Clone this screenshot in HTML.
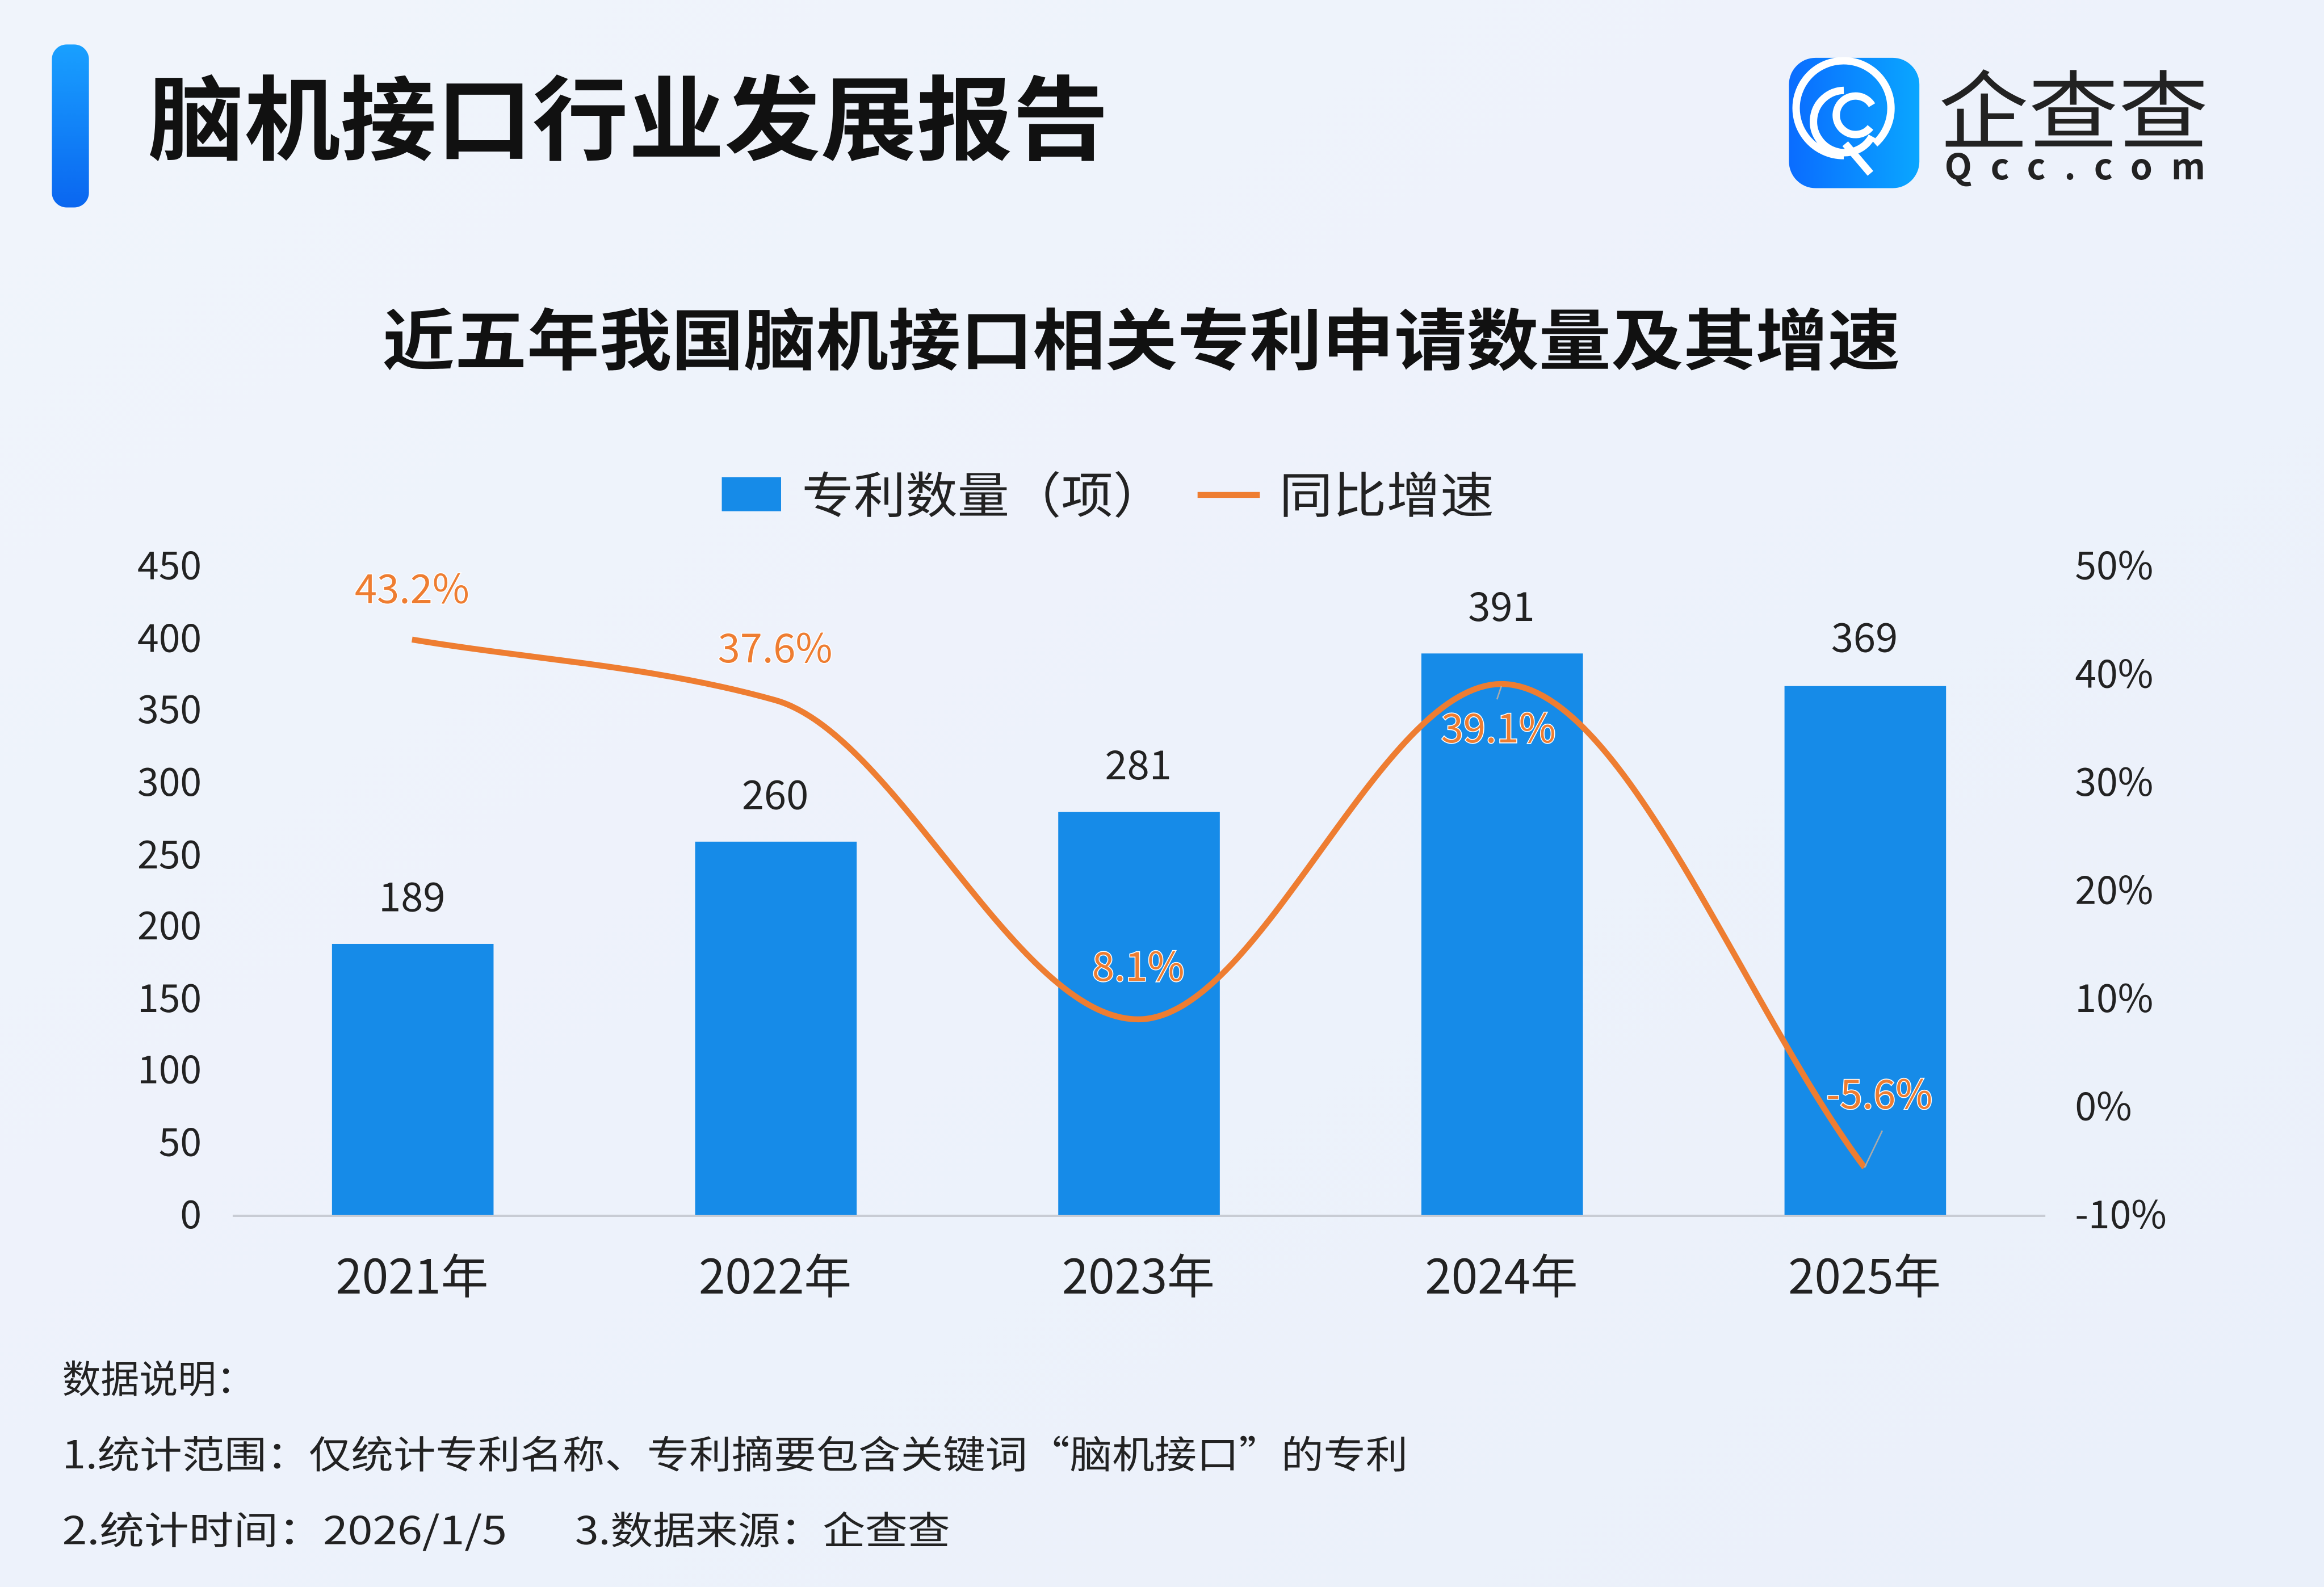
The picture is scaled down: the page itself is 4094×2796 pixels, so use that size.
<!DOCTYPE html>
<html><head><meta charset="utf-8"><style>html,body{margin:0;padding:0;background:#eef3fb}svg{display:block}text{font-family:"Noto Sans CJK SC","Liberation Sans",sans-serif}</style></head>
<body>
<svg width="4094" height="2796" viewBox="0 0 1568 1071" preserveAspectRatio="none" xmlns="http://www.w3.org/2000/svg">
<defs>
<linearGradient id="bg" x1="0" y1="0" x2="1" y2="1"><stop offset="0" stop-color="#f0f4fb"/><stop offset="0.5" stop-color="#edf2fb"/><stop offset="1" stop-color="#eaf0fa"/></linearGradient>
<linearGradient id="bar" x1="0" y1="0" x2="0" y2="1"><stop offset="0" stop-color="#19a0ff"/><stop offset="1" stop-color="#0a66f0"/></linearGradient>
<linearGradient id="logo" x1="0" y1="0" x2="1" y2="0"><stop offset="0" stop-color="#0a6cff"/><stop offset="1" stop-color="#0aa6ff"/></linearGradient>
</defs>
<rect width="1568" height="1071" fill="url(#bg)"/>
<rect x="35" y="30" width="25" height="110" rx="10" fill="url(#bar)"/>
<text x="100" y="103" font-size="62" font-weight="bold" fill="#111" textLength="648" lengthAdjust="spacingAndGlyphs">脑机接口行业发展报告</text>
<rect x="1207" y="39" width="88" height="88" rx="18" fill="url(#logo)"/>
<g fill="none" stroke="#fff" stroke-width="5" stroke-linecap="butt">
<path d="M1244 105 A32 32 0 1 1 1265 97"/>
<path d="M1244 61 A21 21 0 1 0 1263 92"/>
<path d="M1263 71 A13 13 0 1 0 1262 86"/>
<path d="M1245 97 L1262 117"/>
</g>
<text x="1308" y="96" font-size="58" fill="#222" textLength="182" lengthAdjust="spacingAndGlyphs">企查查</text>
<text x="1312" y="121" font-size="24" font-weight="bold" fill="#222" textLength="176" lengthAdjust="spacing">Qcc.com</text>
<text x="258" y="246" font-size="45" font-weight="bold" fill="#111" textLength="1024" lengthAdjust="spacingAndGlyphs">近五年我国脑机接口相关专利申请数量及其增速</text>
<rect x="487" y="322" width="40" height="23" fill="#168be8"/>
<text x="541" y="346" font-size="33" fill="#222" textLength="245" lengthAdjust="spacingAndGlyphs">专利数量（项）</text>
<line x1="808" y1="334" x2="850" y2="334" stroke="#ee7d31" stroke-width="4"/>
<text x="863" y="346" font-size="33" fill="#222" textLength="145" lengthAdjust="spacingAndGlyphs">同比增速</text>
<g font-size="26" fill="#222" text-anchor="end">
<text x="136" y="391">450</text><text x="136" y="440">400</text><text x="136" y="488">350</text><text x="136" y="537">300</text><text x="136" y="586">250</text><text x="136" y="634">200</text><text x="136" y="683">150</text><text x="136" y="731">100</text><text x="136" y="780">50</text><text x="136" y="829">0</text>
</g>
<g font-size="26" fill="#222">
<text x="1400" y="391">50%</text><text x="1400" y="464">40%</text><text x="1400" y="537">30%</text><text x="1400" y="610">20%</text><text x="1400" y="683">10%</text><text x="1400" y="756">0%</text><text x="1400" y="829">-10%</text>
</g>
<line x1="157" y1="820.5" x2="1380" y2="820.5" stroke="#c8ccd4" stroke-width="1.5"/>
<g fill="#168be8">
<rect x="224" y="637" width="109" height="183"/>
<rect x="469" y="568" width="109" height="252"/>
<rect x="714" y="548" width="109" height="272"/>
<rect x="959" y="441" width="109" height="379"/>
<rect x="1204" y="463" width="109" height="357"/>
</g>
<g font-size="27" fill="#222" text-anchor="middle">
<text x="278" y="615">189</text><text x="523" y="546">260</text><text x="768" y="526">281</text><text x="1013" y="419">391</text><text x="1258" y="440">369</text>
</g>
<path d="M278 431.6 C359.7 445.2 441.3 449.5 523 472.5 C604.7 495.4 686.3 687.9 768 687.9 C849.7 687.9 931.3 461.6 1013 461.6 C1094.7 461.6 1176.3 679.1 1258 787.9" fill="none" stroke="#ee7d31" stroke-width="4"/>
<line x1="1258" y1="788" x2="1270" y2="763" stroke="#aaa" stroke-width="1"/>
<line x1="1013" y1="463" x2="1010" y2="472" stroke="#aaa" stroke-width="1"/>
<g font-size="27" fill="#ee7d31" text-anchor="middle" stroke="#fff" stroke-width="1.2" paint-order="stroke">
<text x="278" y="407">43.2%</text><text x="523" y="447">37.6%</text><text x="768" y="662">8.1%</text><text x="1011" y="501">39.1%</text><text x="1268" y="748">-5.6%</text>
</g>
<g font-size="32" fill="#222" text-anchor="middle">
<text x="278" y="873">2021年</text><text x="523" y="873">2022年</text><text x="768" y="873">2023年</text><text x="1013" y="873">2024年</text><text x="1258" y="873">2025年</text>
</g>
<g font-size="26" fill="#222">
<text x="42" y="940">数据说明：</text>
<text x="42" y="991" textLength="908" lengthAdjust="spacingAndGlyphs">1.统计范围：仅统计专利名称、专利摘要包含关键词“脑机接口”的专利</text>
<text x="42" y="1042" textLength="300" lengthAdjust="spacingAndGlyphs">2.统计时间：2026/1/5</text>
<text x="388" y="1042" textLength="253" lengthAdjust="spacingAndGlyphs">3.数据来源：企查查</text>
</g>
</svg>
</body></html>
